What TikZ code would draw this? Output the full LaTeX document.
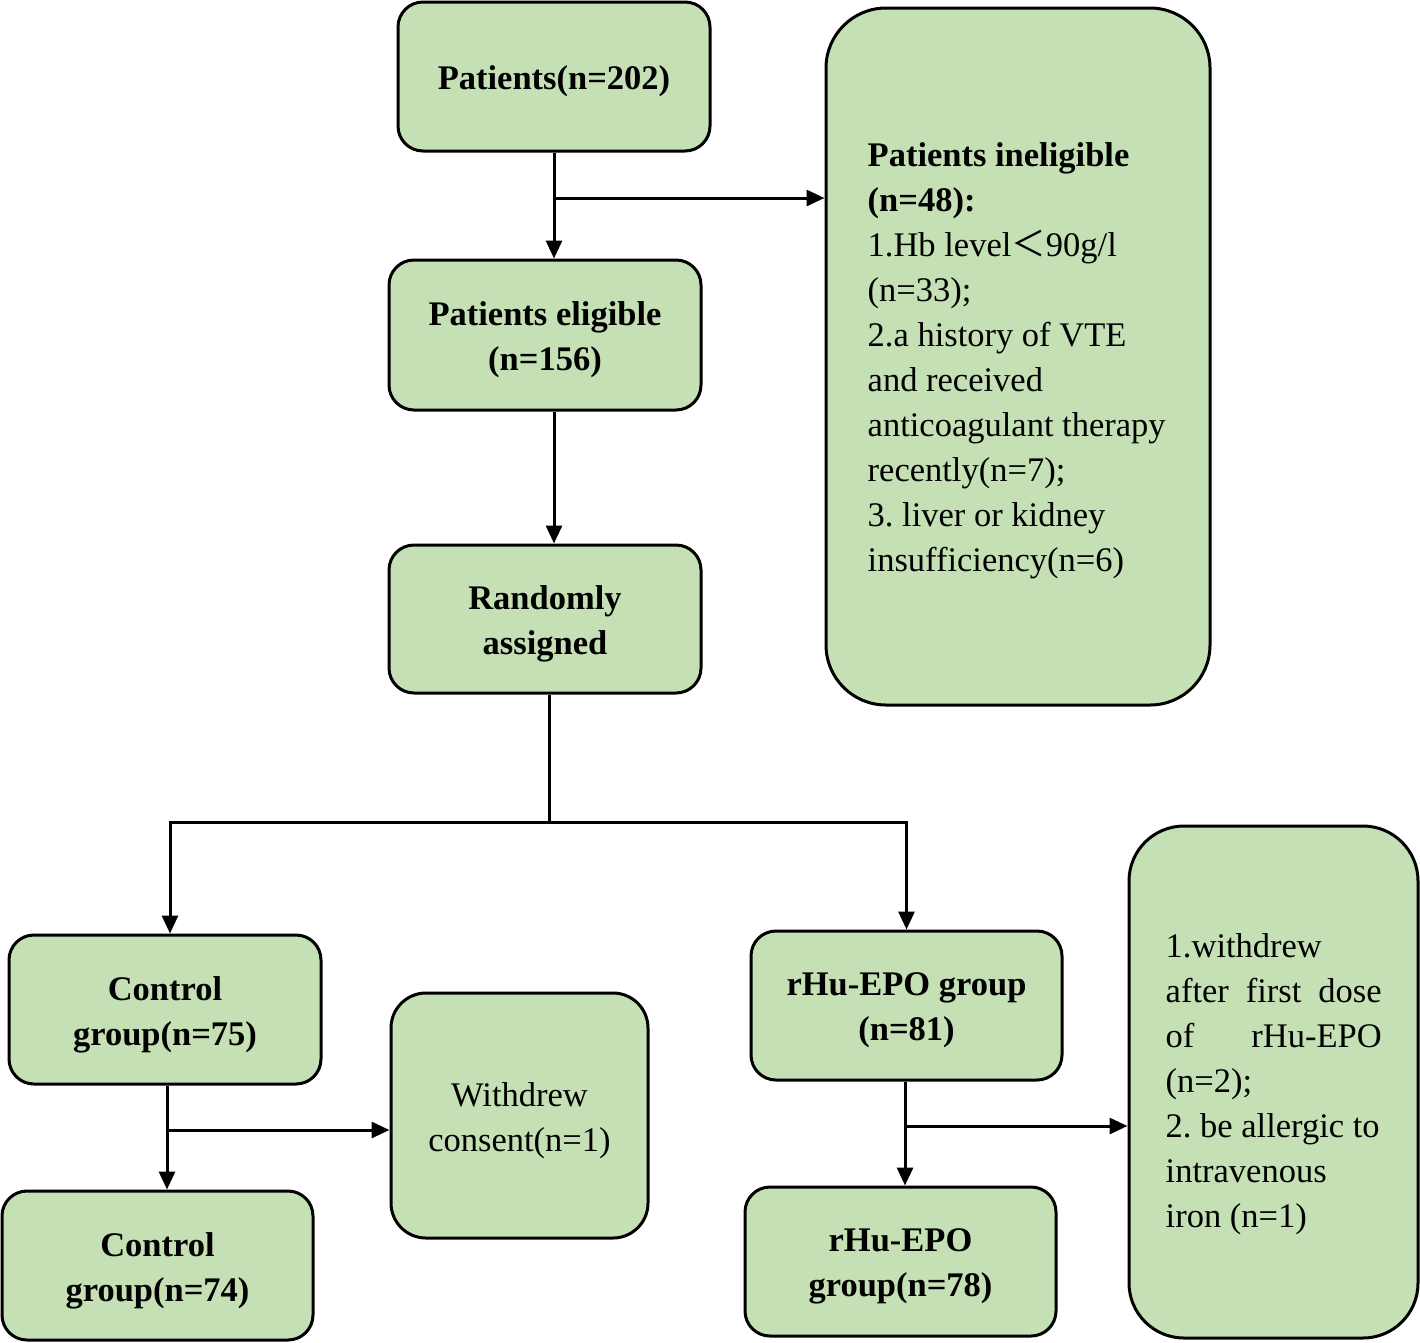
\documentclass[tikz,border=0pt]{standalone}
\usepackage{fontspec}
\setmainfont{Liberation Serif}
\newfontfamily\cjkfont{Noto Sans CJK SC}
\usetikzlibrary{arrows.meta}
\definecolor{boxgreen}{HTML}{C5E0B4}
\newcommand{\fsz}{\fontsize{34.5}{45}\selectfont\frenchspacing}
\begin{document}
\begin{tikzpicture}[x=1pt,y=-1pt,
  box/.style={draw=black, line width=3pt, fill=boxgreen, rounded corners=25pt, inner sep=0pt},
  txt/.style={align=center, font=\fsz, inner sep=0pt},
  btxt/.style={align=center, font=\fsz\bfseries, inner sep=0pt},
  ltxt/.style={align=left, font=\fsz, inner sep=0pt},
  ln/.style={line width=3pt},
  arr/.style={line width=3pt, -{Triangle[length=18pt,width=16pt]}}]
\useasboundingbox (0,0) rectangle (1420,1342);

\node[box, minimum width=312pt, minimum height=149pt] (p202) at (554,76.5) {};
\node[btxt] (p202t) at ([yshift=-5pt]p202.center) {Patients(n=202)};
\node[box, minimum width=312pt, minimum height=150pt] (elig) at (545,335) {};
\node[btxt] (eligt) at ([yshift=-5pt]elig.center) {Patients eligible\\(n=156)};
\node[box, minimum width=312pt, minimum height=148pt] (rand) at (545,619) {};
\node[btxt] (randt) at ([yshift=-5pt]rand.center) {Randomly\\assigned};
\node[box, rounded corners=60pt, minimum width=384pt, minimum height=697pt] (inel) at (1018,356.5) {};
\node[ltxt, anchor=west] (inelt) at ([xshift=43pt,yshift=-4pt]inel.west)
  {\textbf{Patients ineligible}\\\textbf{(n=48):}\\1.Hb level{\cjkfont ＜}90g/l\\(n=33);\\2.a history of VTE\\and received\\anticoagulant therapy\\recently(n=7);\\3. liver or kidney\\insufficiency(n=6)};

\node[box, minimum width=312pt, minimum height=149pt] (c75) at (165,1009.5) {};
\node[btxt] (c75t) at ([yshift=-5pt]c75.center) {Control\\group(n=75)};
\node[box, rounded corners=35pt, minimum width=257pt, minimum height=245pt] (wd) at (519.5,1115.5) {};
\node[txt] (wdt) at ([yshift=-5pt]wd.center) {Withdrew\\consent(n=1)};
\node[box, minimum width=311pt, minimum height=149pt] (c74) at (157.5,1265.5) {};
\node[btxt] (c74t) at ([yshift=-5pt]c74.center) {Control\\group(n=74)};
\node[box, minimum width=311pt, minimum height=149pt] (r81) at (906.5,1005.5) {};
\node[btxt] (r81t) at ([yshift=-5pt]r81.center) {rHu-EPO group\\(n=81)};
\node[box, minimum width=311pt, minimum height=149pt] (r78) at (900.5,1261.5) {};
\node[btxt] (r78t) at ([yshift=-5pt]r78.center) {rHu-EPO\\group(n=78)};
\node[box, rounded corners=55pt, minimum width=289pt, minimum height=512pt] (excl) at (1273.5,1082) {};
\node[ltxt, anchor=west] (exclt) at ([xshift=38pt,yshift=-2pt]excl.west)
  {1.withdrew\\\makebox[216pt][s]{after first dose}\\\makebox[216pt][s]{of rHu-EPO}\\(n=2);\\2. be allergic to\\intravenous\\iron (n=1)};

% connectors
\coordinate (b1) at (554,198);
\draw[arr] (p202.south -| b1) -- (elig.north -| b1);
\draw[arr] (b1) -- (b1 -| inel.west);
\coordinate (b2) at (554,420);
\draw[arr] (elig.south -| b2) -- (rand.north -| b2);
\coordinate (s1) at (549,822);
\coordinate (cx) at (170,822);
\draw[ln] (rand.south -| s1) -- (s1);
\draw[arr] (s1) -- (cx) -- (c75.north -| cx);
\draw[arr] (s1) -| (r81.north);
\coordinate (c1) at (167,1130);
\draw[arr] (c75.south -| c1) -- (c74.north -| c1);
\draw[arr] (c1) -- (c1 -| wd.west);
\coordinate (c2) at (905,1126);
\draw[arr] (r81.south -| c2) -- (r78.north -| c2);
\draw[arr] (c2) -- (c2 -| excl.west);
\end{tikzpicture}
\end{document}
